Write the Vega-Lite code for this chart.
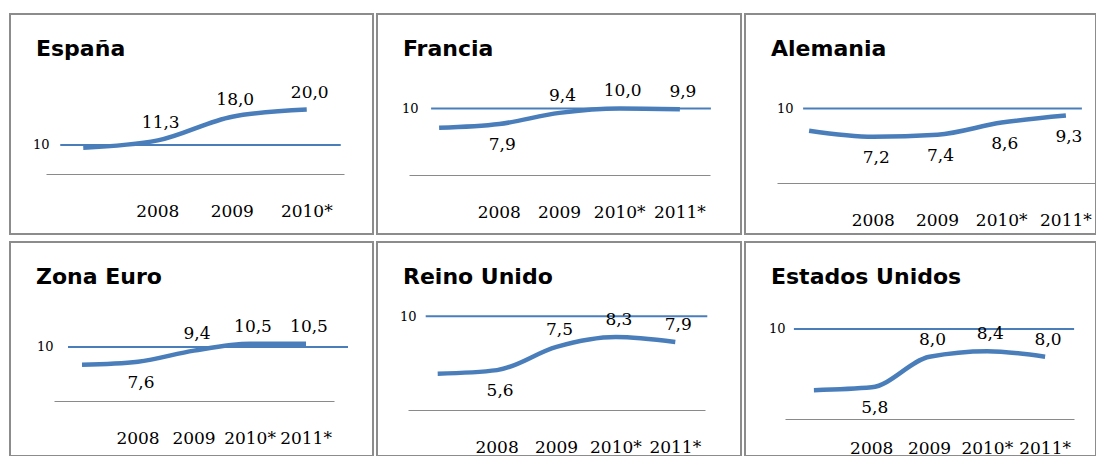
{
  "$schema": "https://vega.github.io/schema/vega-lite/v6.json",
  "padding": {"left": 9, "top": 13, "right": 0, "bottom": 0},
  "bounds": "flush",
  "columns": 3,
  "spacing": {"row": 8, "column": 4},
  "data": {"values": [
    {"pais": "España", "anio": "2007", "valor": 9.2},
    {"pais": "España", "anio": "2008", "valor": 11.3},
    {"pais": "España", "anio": "2009", "valor": 18.0},
    {"pais": "España", "anio": "2010*", "valor": 20.0},
    {"pais": "Francia", "anio": "2007", "valor": 7.4},
    {"pais": "Francia", "anio": "2008", "valor": 7.9},
    {"pais": "Francia", "anio": "2009", "valor": 9.4},
    {"pais": "Francia", "anio": "2010*", "valor": 10.0},
    {"pais": "Francia", "anio": "2011*", "valor": 9.9},
    {"pais": "Alemania", "anio": "2007", "valor": 7.8},
    {"pais": "Alemania", "anio": "2008", "valor": 7.2},
    {"pais": "Alemania", "anio": "2009", "valor": 7.4},
    {"pais": "Alemania", "anio": "2010*", "valor": 8.6},
    {"pais": "Alemania", "anio": "2011*", "valor": 9.3},
    {"pais": "Zona Euro", "anio": "2007", "valor": 7.1},
    {"pais": "Zona Euro", "anio": "2008", "valor": 7.6},
    {"pais": "Zona Euro", "anio": "2009", "valor": 9.4},
    {"pais": "Zona Euro", "anio": "2010*", "valor": 10.5},
    {"pais": "Zona Euro", "anio": "2011*", "valor": 10.5},
    {"pais": "Reino Unido", "anio": "2007", "valor": 5.3},
    {"pais": "Reino Unido", "anio": "2008", "valor": 5.6},
    {"pais": "Reino Unido", "anio": "2009", "valor": 7.5},
    {"pais": "Reino Unido", "anio": "2010*", "valor": 8.3},
    {"pais": "Reino Unido", "anio": "2011*", "valor": 7.9},
    {"pais": "Estados Unidos", "anio": "2007", "valor": 5.6},
    {"pais": "Estados Unidos", "anio": "2008", "valor": 5.8},
    {"pais": "Estados Unidos", "anio": "2009", "valor": 8.0},
    {"pais": "Estados Unidos", "anio": "2010*", "valor": 8.4},
    {"pais": "Estados Unidos", "anio": "2011*", "valor": 8.0}
  ]},
  "concat": [
    {
      "width": 363, "height": 220,
      "title": {"text": "España"},
      "transform": [{"filter": "datum.pais == 'España'"}],
      "encoding": {
        "x": {"field": "anio", "type": "ordinal", "scale": {"domain": ["2007", "2008", "2009", "2010*"], "range": [36, 334]}, "axis": {"title": null, "offset": -60, "labelExpr": "datum.value == '2007' ? '' : datum.label"}},
        "y": {"field": "valor", "type": "quantitative", "scale": {"domain": [-15.14, 47.0], "nice": false, "zero": false}, "axis": {"title": null, "values": [10], "offset": -41}}
      },
      "layer": [
        {"transform": [{"filter": "datum.anio == '2008'"}], "mark": {"type": "rule", "color": "#4a7ebb", "strokeWidth": 2, "xOffset": -23, "x2Offset": 34}, "encoding": {"x": {"datum": "2007", "type": "ordinal"}, "x2": {"datum": "2010*"}, "y": {"datum": 10, "type": "quantitative"}}},
        {"mark": {"type": "line", "color": "#4a7ebb", "strokeWidth": 4.5, "interpolate": "monotone"}},
        {"transform": [{"filter": "datum.anio != '2007' && !(datum.pais == 'Alemania' || (datum.anio == '2008' && datum.pais != 'España'))"}], "mark": {"type": "text", "dy": -12, "dx": 3, "baseline": "alphabetic"}, "encoding": {"text": {"field": "valor", "type": "quantitative", "format": ".1f"}}},
        {"transform": [{"filter": "datum.anio != '2007' && (datum.pais == 'Alemania' || (datum.anio == '2008' && datum.pais != 'España'))"}], "mark": {"type": "text", "dy": 26, "dx": 3, "baseline": "alphabetic"}, "encoding": {"text": {"field": "valor", "type": "quantitative", "format": ".1f"}}}
      ]
    },
    {
      "width": 364, "height": 220,
      "title": {"text": "Francia"},
      "transform": [{"filter": "datum.pais == 'Francia'"}],
      "encoding": {
        "x": {"field": "anio", "type": "ordinal", "scale": {"domain": ["2007", "2008", "2009", "2010*", "2011*"], "range": [32, 333]}, "axis": {"title": null, "offset": -59, "labelExpr": "datum.value == '2007' ? '' : datum.label"}},
        "y": {"field": "valor", "type": "quantitative", "scale": {"domain": [-6.86, 22.67], "nice": false, "zero": false}, "axis": {"title": null, "values": [10], "offset": -43}}
      },
      "layer": [
        {"transform": [{"filter": "datum.anio == '2008'"}], "mark": {"type": "rule", "color": "#4a7ebb", "strokeWidth": 2, "xOffset": -8, "x2Offset": 31}, "encoding": {"x": {"datum": "2007", "type": "ordinal"}, "x2": {"datum": "2011*"}, "y": {"datum": 10, "type": "quantitative"}}},
        {"mark": {"type": "line", "color": "#4a7ebb", "strokeWidth": 4.5, "interpolate": "monotone"}},
        {"transform": [{"filter": "datum.anio != '2007' && !(datum.pais == 'Alemania' || (datum.anio == '2008' && datum.pais != 'España'))"}], "mark": {"type": "text", "dy": -12, "dx": 3, "baseline": "alphabetic"}, "encoding": {"text": {"field": "valor", "type": "quantitative", "format": ".1f"}}},
        {"transform": [{"filter": "datum.anio != '2007' && (datum.pais == 'Alemania' || (datum.anio == '2008' && datum.pais != 'España'))"}], "mark": {"type": "text", "dy": 26, "dx": 3, "baseline": "alphabetic"}, "encoding": {"text": {"field": "valor", "type": "quantitative", "format": ".1f"}}}
      ]
    },
    {
      "width": 351, "height": 220,
      "title": {"text": "Alemania"},
      "transform": [{"filter": "datum.pais == 'Alemania'"}],
      "encoding": {
        "x": {"field": "anio", "type": "ordinal", "scale": {"domain": ["2007", "2008", "2009", "2010*", "2011*"], "range": [32, 353]}, "axis": {"title": null, "offset": -51, "labelExpr": "datum.value == '2007' ? '' : datum.label"}},
        "y": {"field": "valor", "type": "quantitative", "scale": {"domain": [-2.46, 19.38], "nice": false, "zero": false}, "axis": {"title": null, "values": [10], "offset": -50}}
      },
      "layer": [
        {"transform": [{"filter": "datum.anio == '2008'"}], "mark": {"type": "rule", "color": "#4a7ebb", "strokeWidth": 2, "xOffset": -6, "x2Offset": 16}, "encoding": {"x": {"datum": "2007", "type": "ordinal"}, "x2": {"datum": "2011*"}, "y": {"datum": 10, "type": "quantitative"}}},
        {"mark": {"type": "line", "color": "#4a7ebb", "strokeWidth": 4.5, "interpolate": "monotone"}},
        {"transform": [{"filter": "datum.anio != '2007' && !(datum.pais == 'Alemania' || (datum.anio == '2008' && datum.pais != 'España'))"}], "mark": {"type": "text", "dy": -12, "dx": 3, "baseline": "alphabetic"}, "encoding": {"text": {"field": "valor", "type": "quantitative", "format": ".1f"}}},
        {"transform": [{"filter": "datum.anio != '2007' && (datum.pais == 'Alemania' || (datum.anio == '2008' && datum.pais != 'España'))"}], "mark": {"type": "text", "dy": 26, "dx": 3, "baseline": "alphabetic"}, "encoding": {"text": {"field": "valor", "type": "quantitative", "format": ".1f"}}}
      ]
    },
    {
      "width": 363, "height": 214,
      "title": {"text": "Zona Euro"},
      "transform": [{"filter": "datum.pais == 'Zona Euro'"}],
      "encoding": {
        "x": {"field": "anio", "type": "ordinal", "scale": {"domain": ["2007", "2008", "2009", "2010*", "2011*"], "range": [44, 324]}, "axis": {"title": null, "offset": -55, "labelExpr": "datum.value == '2007' ? '' : datum.label"}},
        "y": {"field": "valor", "type": "quantitative", "scale": {"domain": [-7.63, 26.95], "nice": false, "zero": false}, "axis": {"title": null, "values": [10], "offset": -45}}
      },
      "layer": [
        {"transform": [{"filter": "datum.anio == '2008'"}], "mark": {"type": "rule", "color": "#4a7ebb", "strokeWidth": 2, "xOffset": -14, "x2Offset": 42}, "encoding": {"x": {"datum": "2007", "type": "ordinal"}, "x2": {"datum": "2011*"}, "y": {"datum": 10, "type": "quantitative"}}},
        {"mark": {"type": "line", "color": "#4a7ebb", "strokeWidth": 4.5, "interpolate": "monotone"}},
        {"transform": [{"filter": "datum.anio != '2007' && !(datum.pais == 'Alemania' || (datum.anio == '2008' && datum.pais != 'España'))"}], "mark": {"type": "text", "dy": -12, "dx": 3, "baseline": "alphabetic"}, "encoding": {"text": {"field": "valor", "type": "quantitative", "format": ".1f"}}},
        {"transform": [{"filter": "datum.anio != '2007' && (datum.pais == 'Alemania' || (datum.anio == '2008' && datum.pais != 'España'))"}], "mark": {"type": "text", "dy": 26, "dx": 3, "baseline": "alphabetic"}, "encoding": {"text": {"field": "valor", "type": "quantitative", "format": ".1f"}}}
      ]
    },
    {
      "width": 364, "height": 214,
      "title": {"text": "Reino Unido"},
      "transform": [{"filter": "datum.pais == 'Reino Unido'"}],
      "encoding": {
        "x": {"field": "anio", "type": "ordinal", "scale": {"domain": ["2007", "2008", "2009", "2010*", "2011*"], "range": [31, 328]}, "axis": {"title": null, "offset": -46, "labelExpr": "datum.value == '2007' ? '' : datum.label"}},
        "y": {"field": "valor", "type": "quantitative", "scale": {"domain": [-1.41, 16.06], "nice": false, "zero": false}, "axis": {"title": null, "values": [10], "offset": -41}}
      },
      "layer": [
        {"transform": [{"filter": "datum.anio == '2008'"}], "mark": {"type": "rule", "color": "#4a7ebb", "strokeWidth": 2, "xOffset": -12, "x2Offset": 32}, "encoding": {"x": {"datum": "2007", "type": "ordinal"}, "x2": {"datum": "2011*"}, "y": {"datum": 10, "type": "quantitative"}}},
        {"mark": {"type": "line", "color": "#4a7ebb", "strokeWidth": 4.5, "interpolate": "monotone"}},
        {"transform": [{"filter": "datum.anio != '2007' && !(datum.pais == 'Alemania' || (datum.anio == '2008' && datum.pais != 'España'))"}], "mark": {"type": "text", "dy": -12, "dx": 3, "baseline": "alphabetic"}, "encoding": {"text": {"field": "valor", "type": "quantitative", "format": ".1f"}}},
        {"transform": [{"filter": "datum.anio != '2007' && (datum.pais == 'Alemania' || (datum.anio == '2008' && datum.pais != 'España'))"}], "mark": {"type": "text", "dy": 26, "dx": 3, "baseline": "alphabetic"}, "encoding": {"text": {"field": "valor", "type": "quantitative", "format": ".1f"}}}
      ]
    },
    {
      "width": 351, "height": 214,
      "title": {"text": "Estados Unidos"},
      "transform": [{"filter": "datum.pais == 'Estados Unidos'"}],
      "encoding": {
        "x": {"field": "anio", "type": "ordinal", "scale": {"domain": ["2007", "2008", "2009", "2010*", "2011*"], "range": [40, 329]}, "axis": {"title": null, "offset": -37, "labelPadding": 34, "labelExpr": "datum.value == '2007' ? '' : datum.label"}},
        "y": {"field": "valor", "type": "quantitative", "scale": {"domain": [0.86, 16.26], "nice": false, "zero": false}, "axis": {"title": null, "values": [10], "offset": -42}}
      },
      "layer": [
        {"transform": [{"filter": "datum.anio == '2008'"}], "mark": {"type": "rule", "color": "#4a7ebb", "strokeWidth": 2, "xOffset": -20, "x2Offset": 29}, "encoding": {"x": {"datum": "2007", "type": "ordinal"}, "x2": {"datum": "2011*"}, "y": {"datum": 10, "type": "quantitative"}}},
        {"mark": {"type": "line", "color": "#4a7ebb", "strokeWidth": 4.5, "interpolate": "monotone"}},
        {"transform": [{"filter": "datum.anio != '2007' && !(datum.pais == 'Alemania' || (datum.anio == '2008' && datum.pais != 'España'))"}], "mark": {"type": "text", "dy": -12, "dx": 3, "baseline": "alphabetic"}, "encoding": {"text": {"field": "valor", "type": "quantitative", "format": ".1f"}}},
        {"transform": [{"filter": "datum.anio != '2007' && (datum.pais == 'Alemania' || (datum.anio == '2008' && datum.pais != 'España'))"}], "mark": {"type": "text", "dy": 26, "dx": 3, "baseline": "alphabetic"}, "encoding": {"text": {"field": "valor", "type": "quantitative", "format": ".1f"}}}
      ]
    }
  ],
  "config": {
    "view": {"stroke": "#8c8c8c", "strokeWidth": 2},
    "font": "DejaVu Sans",
    "locale": {"number": {"decimal": ",", "thousands": ".", "grouping": [3], "currency": ["", " €"]}},
    "axisX": {"domainColor": "#8a8a8a", "domainWidth": 1, "ticks": false, "tickSize": 0, "labelFont": "DejaVu Serif", "labelFontSize": 17, "labelColor": "#000000", "labelBaseline": "alphabetic", "labelPadding": 42, "labelAngle": 0, "labelOverlap": false, "labelBound": false, "grid": false},
    "axisY": {"domain": false, "ticks": false, "tickSize": 0, "grid": false, "labelFont": "DejaVu Serif", "labelFontSize": 13, "labelColor": "#000000", "labelPadding": 2, "labelOverlap": false},
    "title": {"anchor": "start", "frame": "group", "font": "DejaVu Sans", "fontSize": 22, "fontWeight": "bold", "color": "#000000", "baseline": "alphabetic", "offset": -47, "dx": 26},
    "text": {"font": "DejaVu Serif", "fontSize": 17, "color": "#000000"}
  }
}
